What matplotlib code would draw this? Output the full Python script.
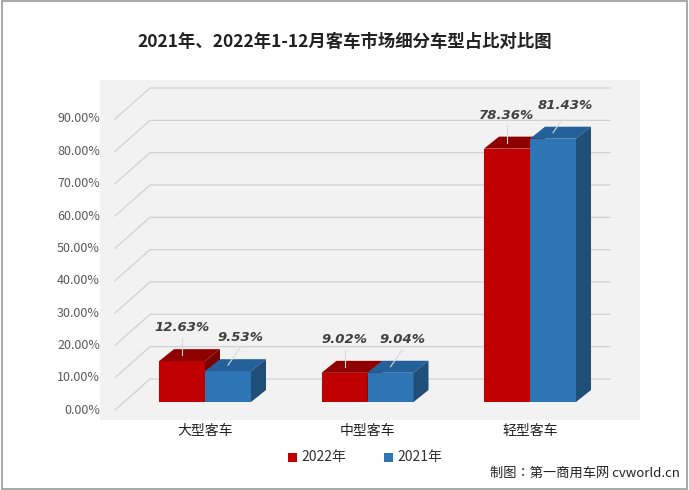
import matplotlib
matplotlib.use("Agg")
import matplotlib.pyplot as plt
from matplotlib.patches import Polygon, Rectangle

plt.rcParams['font.family'] = 'sans-serif'
plt.rcParams['font.sans-serif'] = ['Noto Sans CJK SC', 'Noto Sans CJK JP', 'Noto Sans CJK TC', 'DejaVu Sans']

categories = ["大型客车", "中型客车", "轻型客车"]
series_names = ["2022年", "2021年"]
v2022 = [12.63, 9.02, 78.36]
v2021 = [9.53, 9.04, 81.43]
yticks = [0, 10, 20, 30, 40, 50, 60, 70, 80, 90]

fig = plt.figure(figsize=(6.89, 4.90), dpi=100)
fig.patches.append(Rectangle((0.003, 0.003), 0.994, 0.994, transform=fig.transFigure,
                             fill=False, edgecolor="#9a9a9a", lw=1.2))
fig.patches.append(Rectangle((100/689, 1-420/490), 540/689, 340/490, transform=fig.transFigure,
                             facecolor="#f2f2f2", edgecolor="none", zorder=0))
fig.text(0.5, 1-42/490, "2021年、2022年1-12月客车市场细分车型占比对比图", ha="center", va="center",
         fontsize=12.5, color="#222222", fontweight="bold")

ax = fig.add_axes([100/689, 1-410/490, 540/689, (410-119)/490])
ax.set_zorder(5)
ax.patch.set_visible(False)
ax.set_xlim(100, 640)
ax.set_ylim(0, 90)
ax.axis("off")
pxy = 90/(410-119)

wall_dx, wall_dy = 35, 31*pxy
for t in yticks:
    ax.plot([115, 115+wall_dx, 610], [t, t+wall_dy, t+wall_dy], color="#d0d0d0", lw=0.9, zorder=1,
            clip_on=False)
    ax.text(100, t, f"{t:.2f}%", ha="right", va="center", fontsize=9, color="#595959")

bw = 46
ddx, ddy = 15, 12*pxy
base = 8*pxy
colors = [("#c00000", "#8f0000", "#7a0000"), ("#2e75b6", "#24609a", "#1f4e79")]
centers = [205 + i*162.5 for i in range(len(categories))]
for si, vals in enumerate([v2022, v2021]):
    front, top, side = colors[si]
    for ci, v in enumerate(vals):
        x0 = centers[ci] - bw + si*bw
        h = base + v
        ax.bar(x0, v, width=bw, bottom=base, align="edge", color=front, zorder=3+ci*2)
        ax.add_patch(Polygon([(x0, h), (x0+ddx, h+ddy), (x0+bw+ddx, h+ddy), (x0+bw, h)],
                             facecolor=top, edgecolor="none", zorder=3+ci*2))
        ax.add_patch(Polygon([(x0+bw, base), (x0+bw+ddx, base+ddy), (x0+bw+ddx, h+ddy), (x0+bw, h)],
                             facecolor=side, edgecolor="none", zorder=3+ci*2))
        lx = x0 + bw/2 + (0 if si == 0 else 12)
        ly = h + ddy/2 + 6.5
        ax.plot([x0+bw/2, lx], [h+ddy/2, ly-1.2], color="#d9d9d9", lw=0.8, zorder=20)
        ax.text(lx, ly, f"{v:.2f}%", ha="center", va="bottom", fontsize=9.5, fontweight="bold",
                style="italic", color="#404040", zorder=21, family="DejaVu Sans")

for ci, c in enumerate(categories):
    ax.text(centers[ci], -6.5, c, ha="center", va="center", fontsize=10, color="#222222", clip_on=False)

for si, name in enumerate(series_names):
    x = (288 + si*96)/689
    fig.patches.append(Rectangle((x, 1-462/490), 9/689, 9/490, transform=fig.transFigure,
                                 facecolor=colors[si][0], edgecolor="none"))
    fig.text(x + 13/689, 1-457/490, name, ha="left", va="center", fontsize=10, color="#333333")

fig.text(585/689, 1-473/490, "制图：第一商用车网 cvworld.cn", ha="center", va="center", fontsize=9.5, color="#222222")

fig.savefig("out.png", dpi=100)
